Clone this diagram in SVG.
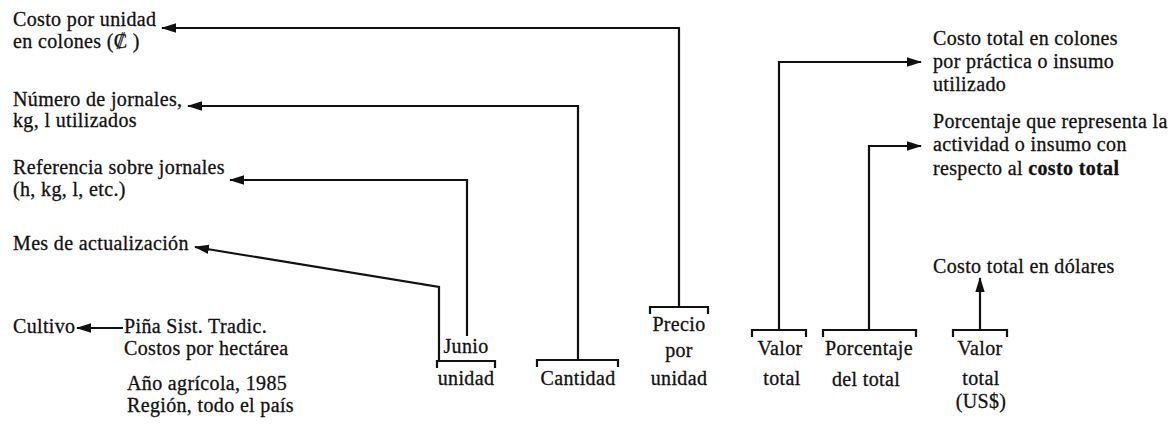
<svg xmlns="http://www.w3.org/2000/svg" width="1176" height="430" viewBox="0 0 1176 430">
<style>
text{font-family:"Liberation Serif","DejaVu Serif",serif;font-size:20px;letter-spacing:0.35px;fill:#111;stroke:#111;stroke-width:0.3px}
.m{text-anchor:middle}
.b{font-weight:bold}
.ln{fill:none;stroke:#111;stroke-width:2.2}
.br{fill:none;stroke:#111;stroke-width:2.2}
</style>
<defs>
<marker id="ah" markerUnits="userSpaceOnUse" markerWidth="15" markerHeight="11" viewBox="0 0 15 11" refX="14" refY="5.5" orient="auto">
<path d="M0,0.8 L15,5.5 L0,10.2 z" fill="#111"/>
</marker>
</defs>
<rect width="1176" height="430" fill="#fff"/>

<g id="left-labels">
<g id="n-costo-unidad"><text x="13" y="26">Costo por unidad</text><text x="13" y="48">en colones (₡ )</text></g>
<g id="n-numero-jornales"><text x="13" y="106">Número de jornales,</text><text x="13" y="127">kg, l utilizados</text></g>
<g id="n-referencia"><text x="13" y="174">Referencia sobre jornales</text><text x="13" y="196">(h, kg, l, etc.)</text></g>
<g id="n-mes"><text x="13" y="250">Mes de actualización</text></g>
<g id="n-cultivo"><text x="13" y="333">Cultivo</text></g>
<g id="n-pina"><text x="124" y="333">Piña Sist. Tradic.</text><text x="124" y="355">Costos por hectárea</text></g>
<g id="n-anio"><text x="127" y="390">Año agrícola, 1985</text><text x="127" y="412">Región, todo el país</text></g>
</g>

<g id="right-labels">
<g id="n-costo-total-colones"><text x="933" y="45">Costo total en colones</text><text x="933" y="68">por práctica o insumo</text><text x="933" y="91">utilizado</text></g>
<g id="n-porcentaje-desc"><text x="933" y="128">Porcentaje que representa la</text><text x="933" y="151">actividad o insumo con</text><text x="933" y="175">respecto al <tspan class="b">costo total</tspan></text></g>
<g id="n-dolares"><text x="933" y="273">Costo total en dólares</text></g>
</g>

<g id="columns">
<g id="c-junio"><path class="br" d="M437,368 V361 H495 V368"/><text class="m" x="466" y="353">Junio</text><text class="m" x="466" y="385">unidad</text></g>
<g id="c-cantidad"><path class="br" d="M537,367 V360 H618 V367"/><text class="m" x="578" y="385">Cantidad</text></g>
<g id="c-precio"><path class="br" d="M650,314 V307 H708 V314"/><text class="m" x="679" y="331">Precio</text><text class="m" x="679" y="357">por</text><text class="m" x="679" y="385">unidad</text></g>
<g id="c-valor"><path class="br" d="M752,337 V330 H806 V337"/><text class="m" x="780" y="355">Valor</text><text class="m" x="782" y="385">total</text></g>
<g id="c-porcentaje"><path class="br" d="M823,337 V330 H916 V337"/><text class="m" x="869" y="355">Porcentaje</text><text class="m" x="866" y="386">del total</text></g>
<g id="c-valor-usd"><path class="br" d="M953,337 V330 H1007 V337"/><text class="m" x="980" y="355">Valor</text><text class="m" x="981" y="385">total</text><text class="m" x="981" y="408">(US$)</text></g>
</g>

<g id="connectors">
<path class="ln" d="M679,307 V28 H162" marker-end="url(#ah)"/>
<path class="ln" d="M578,360 V106 H188" marker-end="url(#ah)"/>
<path class="ln" d="M467,336 V180 H230" marker-end="url(#ah)"/>
<path class="ln" d="M439,361 V287 L195,247" marker-end="url(#ah)"/>
<path class="ln" d="M779,330 V62 H921" marker-end="url(#ah)"/>
<path class="ln" d="M869,330 V146 H921" marker-end="url(#ah)"/>
<path class="ln" d="M980,330 V278" marker-end="url(#ah)"/>
<path class="ln" d="M123,328 H77" marker-end="url(#ah)"/>
</g>
</svg>
